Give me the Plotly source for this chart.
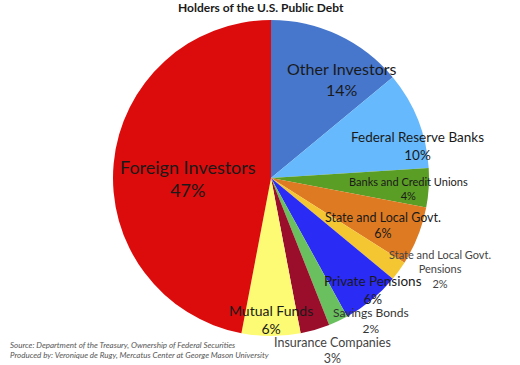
import plotly.graph_objects as go

title = "Holders of the U.S. Public Debt"
labels = ["Other Investors", "Federal Reserve Banks", "Banks and Credit Unions",
          "State and Local Govt.", "State and Local Govt. Pensions", "Private Pensions",
          "Savings Bonds", "Insurance Companies", "Mutual Funds", "Foreign Investors"]
values = [14, 10, 4, 6, 2, 6, 2, 3, 6, 47]
colors = ["#4677cc", "#66b9fc", "#5a9e25", "#de7a22", "#f4c631", "#2b2bf6",
          "#6abf5e", "#9a0d2b", "#fdfb74", "#dc0c0c"]
source_lines = ["Source: Department of the Treasury, Ownership of Federal Securities",
                "Produced by: Veronique de Rugy, Mercatus Center at George Mason University"]

W, H = 520, 365
FONT = "Lato"

# label layout: (x px, y px, font size, color, display label)
label_layout = {
    "Other Investors": (342, 79, 16, "#1a1a1a", "Other Investors"),
    "Federal Reserve Banks": (417, 146, 13.5, "#1a1a1a", "Federal Reserve Banks"),
    "Banks and Credit Unions": (408, 188, 11, "#1a1a1a", "Banks and Credit Unions"),
    "State and Local Govt.": (383, 225, 12.5, "#1a1a1a", "State and Local Govt."),
    "State and Local Govt. Pensions": (440, 269, 11, "#444444", "State and Local Govt.<br>Pensions"),
    "Private Pensions": (373, 290, 13.5, "#1a1a1a", "Private Pensions"),
    "Savings Bonds": (371, 320, 12, "#333333", "Savings Bonds"),
    "Insurance Companies": (332, 350, 12.5, "#444444", "Insurance Companies"),
    "Mutual Funds": (271, 319, 14, "#1a1a1a", "Mutual Funds"),
    "Foreign Investors": (188, 178, 18, "#1a1a1a", "Foreign Investors"),
}

cx, cy, R = 271, 178, 158

fig = go.Figure(go.Pie(
    labels=labels, values=values, sort=False, direction="clockwise", rotation=0,
    marker=dict(colors=colors, line=dict(width=0)),
    textinfo="none", hoverinfo="label+percent", showlegend=False,
    domain=dict(x=[(cx - R) / W, (cx + R) / W], y=[(H - cy - R) / H, (H - cy + R) / H]),
))

annotations = []
for lab, val in zip(labels, values):
    x, y, s, c, disp = label_layout[lab]
    annotations.append(dict(
        x=x / W, y=1 - y / H, xref="paper", yref="paper", showarrow=False,
        text=f"{disp}<br>{val}%", align="center", xanchor="center", yanchor="middle",
        borderpad=0, font=dict(family=FONT, size=s, color=c)))

annotations.append(dict(x=261 / W, y=1 - 7 / H, xref="paper", yref="paper", showarrow=False,
                        text=f"<b>{title}</b>", xanchor="center", yanchor="middle",
                        font=dict(family=FONT, size=12, color="#1a1a1a")))
for i, line in enumerate(source_lines):
    annotations.append(dict(x=8 / W, y=1 - (345 + 10 * i) / H, xref="paper", yref="paper",
                            showarrow=False, text=f"<i>{line}</i>", xanchor="left",
                            yanchor="middle", font=dict(family=FONT, size=8, color="#555555")))

fig.update_layout(width=W, height=H, margin=dict(l=0, r=0, t=0, b=0),
                  paper_bgcolor="white", plot_bgcolor="white", annotations=annotations)
fig.write_html("out.html", config={"displayModeBar": False},
               post_script="document.body.style.margin='0';")
